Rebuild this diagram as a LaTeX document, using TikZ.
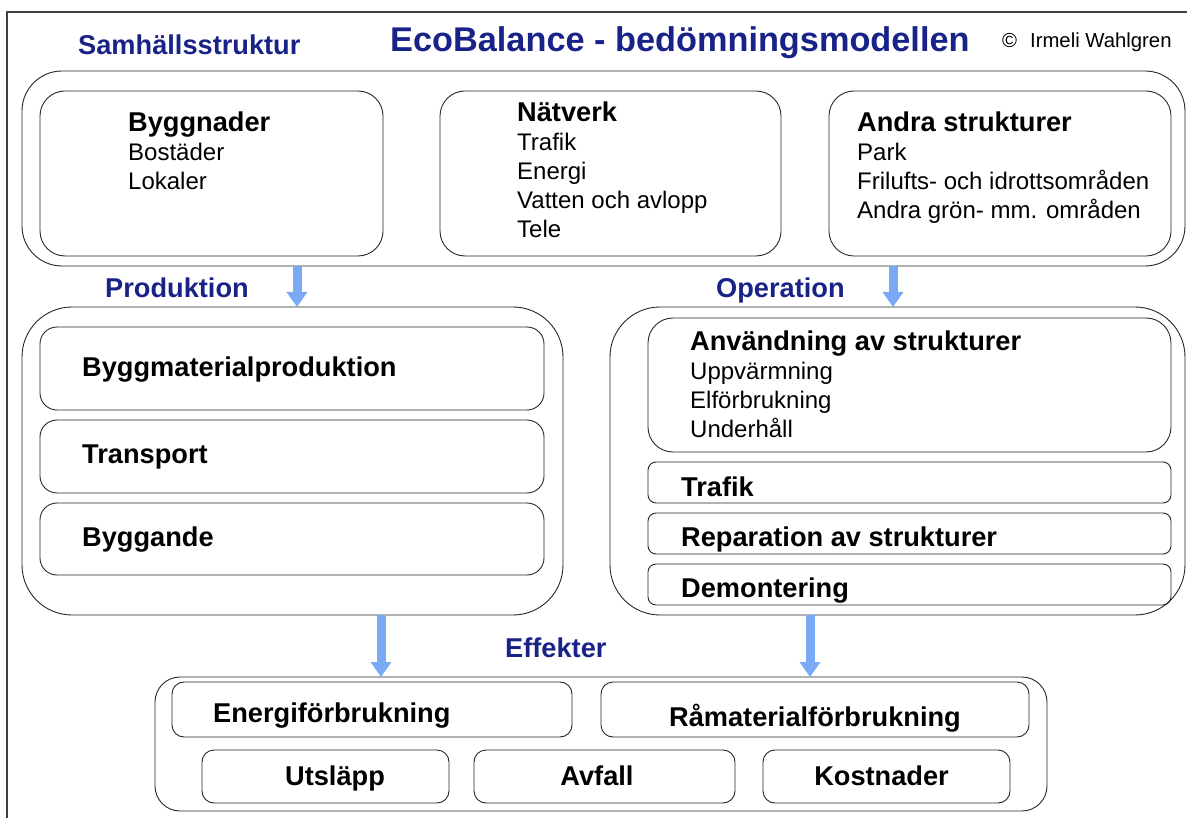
\documentclass[tikz,border=0pt]{standalone}
\usepackage{fontspec}
\setmainfont{Liberation Sans}
\usetikzlibrary{arrows.meta,positioning}
\definecolor{headblue}{RGB}{25,35,135}
\definecolor{arrowblue}{RGB}{122,170,245}
\tikzset{
  panel/.style={draw=black!85, line width=0.9pt, rounded corners=#1, inner sep=0pt, outer sep=0pt},
  title/.style={font=\fontsize{34.3}{38}\selectfont\bfseries, text=headblue, inner sep=0pt, anchor=base west},
  heading/.style={font=\fontsize{27.2}{30}\selectfont\bfseries, text=headblue, inner sep=0pt, anchor=base west},
  lead/.style={font=\fontsize{27.2}{30}\selectfont\bfseries, inner sep=0pt, anchor=base west},
  item/.style={font=\fontsize{24}{28}\selectfont, inner sep=0pt, anchor=base west},
  note/.style={font=\fontsize{20.3}{24}\selectfont, inner sep=0pt, anchor=base west},
  flow/.style={arrowblue, line width=9pt, -{Triangle[width=20pt,length=15pt]}},
}
\begin{document}
\begin{tikzpicture}[x=1pt, y=-1pt]
    \useasboundingbox (0,0) rectangle (1187,818);
    % frame
    \draw[black!75, line width=1.2pt] (1187,12) -- (7,12) -- (7,818);
    % headings
    \node[title] (titel) at (390,52) {EcoBalance - bedömningsmodellen};
    \node[note] (copyr) at (1002,48) {©\hspace{13pt}Irmeli Wahlgren};
    \node[heading] (hsam) at (78,55) {Samhällsstruktur};
    \node[heading] (hprod) at (105,298) {Produktion};
    \node[heading] (hoper) at (716,298) {Operation};
    \node[heading] (heff) at (505,657) {Effekter};
    % (1) Samhällsstruktur
    \node[panel=40pt, minimum width=1163pt, minimum height=195pt] (sam) at (603.5,168.5) {};
    \node[panel=25pt, minimum width=343pt, minimum height=165pt] (bygg) at (211.5,173.5) {};
    \node[panel=25pt, minimum width=341pt, minimum height=165pt] (natv) at (610.5,173.5) {};
    \node[panel=25pt, minimum width=342pt, minimum height=165pt] (andra) at (1000,173.5) {};
    \node[lead] (byggt) at (128,132) {Byggnader};
    \foreach \t [count=\i] in {Bostäder, Lokaler}
        \node[item] (bygg\i) at (128,{132+28.8*\i}) {\t};
    \node[lead] (natvt) at (517,122) {Nätverk};
    \foreach \t [count=\i] in {Trafik, Energi, Vatten och avlopp, Tele}
        \node[item] (natv\i) at (517,{122+28.8*\i}) {\t};
    \node[lead] (andrat) at (857,132) {Andra strukturer};
    \foreach \t [count=\i] in {Park, Frilufts- och idrottsområden, Andra grön- mm. områden}
        \node[item] (andra\i) at (857,{132+28.8*\i}) {\t};
    % (2) Produktion
    \node[panel=50pt, minimum width=541pt, minimum height=308pt] (prod) at (292.5,461) {};
    \node[panel=17pt, minimum width=504pt, minimum height=83pt] (bmp) at (292,368.5) {};
    \node[panel=17pt, minimum width=504pt, minimum height=73pt] (trans) at (292,456.5) {};
    \node[panel=17pt, minimum width=504pt, minimum height=72pt] (byggande) at (292,539) {};
    \node[lead] (bmpt) at (82,377) {Byggmaterialproduktion};
    \node[lead] (transt) at (82,464) {Transport};
    \node[lead] (byggandet) at (82,546) {Byggande};
    % (3) Operation
    \node[panel=50pt, minimum width=575pt, minimum height=308pt] (oper) at (897.5,461) {};
    \node[panel=25pt, minimum width=523pt, minimum height=134pt] (anv) at (909.5,385) {};
    \node[panel=8pt, minimum width=523pt, minimum height=41pt] (traf) at (909.5,482.5) {};
    \node[panel=8pt, minimum width=523pt, minimum height=41pt] (rep) at (909.5,533.5) {};
    \node[panel=8pt, minimum width=523pt, minimum height=41pt] (dem) at (909.5,584.5) {};
    \node[lead] (anvt) at (690,351) {Användning av strukturer};
    \foreach \t [count=\i] in {Uppvärmning, Elförbrukning, Underhåll}
        \node[item] (anv\i) at (690,{351+28.7*\i}) {\t};
    \node[lead] (traft) at (681,496) {Trafik};
    \node[lead] (rept) at (681,546) {Reparation av strukturer};
    \node[lead] (demt) at (681,597) {Demontering};
    % (4) Effekter
    \node[panel=25pt, minimum width=892pt, minimum height=134pt] (eff) at (601,744) {};
    \node[panel=12pt, minimum width=400pt, minimum height=55pt] (energi) at (372,709.5) {};
    \node[panel=12pt, minimum width=428pt, minimum height=55pt] (ramat) at (815,709.5) {};
    \node[panel=12pt, minimum width=247pt, minimum height=53pt] (utsl) at (325.5,776.5) {};
    \node[panel=12pt, minimum width=261pt, minimum height=53pt] (avfall) at (604.5,776.5) {};
    \node[panel=12pt, minimum width=247pt, minimum height=53pt] (kost) at (886.5,776.5) {};
    \node[lead] (energit) at (213,722) {Energiförbrukning};
    \node[lead, anchor=base] (ramatt) at (815,726) {Råmaterialförbrukning};
    \node[lead, anchor=base] (utslt) at (335,785) {Utsläpp};
    \node[lead, anchor=base] (avfallt) at (597,785) {Avfall};
    \node[lead, anchor=base] (kostt) at (881.5,785) {Kostnader};
    % arrows
    \coordinate (a1) at (297,0);
    \coordinate (a2) at (893,0);
    \coordinate (a3) at (381,0);
    \coordinate (a4) at (810,0);
    \draw[flow] (sam.south -| a1) -- (prod.north -| a1);
    \draw[flow] (sam.south -| a2) -- (oper.north -| a2);
    \draw[flow] (prod.south -| a3) -- (eff.north -| a3);
    \draw[flow] (oper.south -| a4) -- (eff.north -| a4);
\end{tikzpicture}
\end{document}
